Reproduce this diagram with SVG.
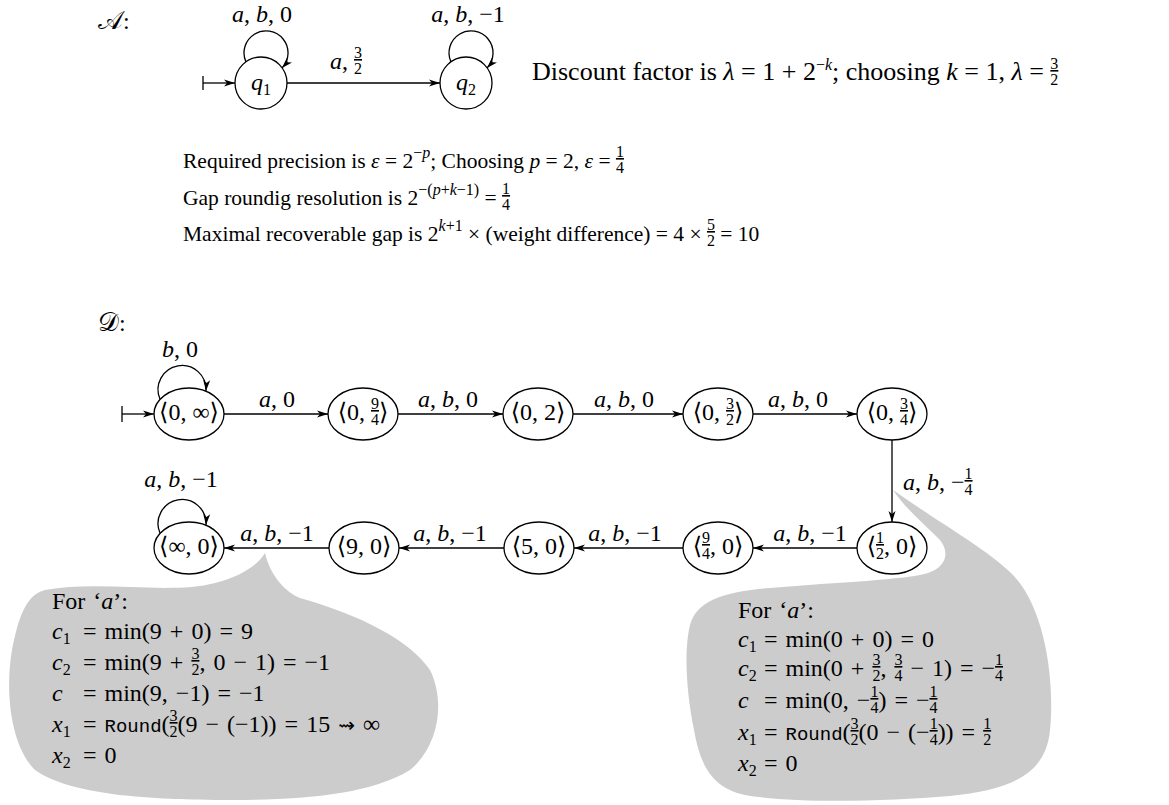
<svg xmlns="http://www.w3.org/2000/svg" width="1169" height="805" viewBox="0 0 1169 805">
<defs>
<marker id="ah" markerWidth="12" markerHeight="8" refX="11" refY="4" orient="auto" markerUnits="userSpaceOnUse">
<path d="M0,0.5 L11,4 L0,7.5 L3,4 z" fill="#000"/>
</marker>
<style>
text{font-family:"Liberation Serif","DejaVu Serif","DejaVu Sans",serif;font-size:24px;fill:#000}
.i{font-style:italic}
.f{font-size:16px}
.u{text-decoration:underline}
.s{font-size:16px}
.m{font-family:"Liberation Mono","DejaVu Sans Mono",monospace;font-size:19px}
.cal{font-family:"DejaVu Sans","DejaVu Serif","Noto Sans",serif;font-size:26px}
.node{fill:#fff;stroke:#000;stroke-width:1.3}
.e{fill:none;stroke:#000;stroke-width:1.3}
.a{marker-end:url(#ah)}
.blob{fill:#cccccc;stroke:none}
.p{font-size:21.5px}
.big{font-size:26px}
.mid{text-anchor:middle}
.cl{word-spacing:2px}
.sq{font-family:"DejaVu Sans",sans-serif;font-weight:normal;font-size:20px}
</style>
</defs>
<rect width="1169" height="805" fill="#fff"/>

<g id="callouts">
<path class="blob" d="M265,553 C270,575 285,592 300,598 C360,615 410,640 430,670 C445,700 440,745 410,770 C370,795 300,800 230,800 C150,800 70,795 35,770 C10,745 5,690 12,650 C18,620 25,595 45,590 C100,580 170,595 215,583 C240,577 258,565 265,553 Z"/>
<path class="blob" d="M893,490 C935,520 985,548 1010,572 C1045,605 1055,680 1050,730 C1046,775 1010,790 950,796 C880,802 790,803 745,795 C712,788 700,765 694,730 C686,690 684,650 690,625 C697,600 725,592 770,588 C840,582 905,580 928,573 C948,566 950,550 938,538 C922,522 905,508 893,490 Z"/>
</g>

<g id="titles">
<text x="98" y="29" class="cal">𝒜<tspan style="font-family:'Liberation Serif',serif;font-size:24px">:</tspan></text>
<text x="98" y="331" class="cal">𝒟<tspan style="font-family:'Liberation Serif',serif;font-size:24px">:</tspan></text>
<text x="532" y="80" class="big">Discount factor is <tspan class="i">λ</tspan> = 1 + 2<tspan class="s" dy="-10">−<tspan class="i">k</tspan></tspan><tspan dy="10">; choosing </tspan><tspan class="i">k</tspan> = 1, <tspan class="i">λ</tspan> = <tspan class="f u" dy="-11">3</tspan><tspan class="f" dx="-8" dy="16">2</tspan></text>
<text x="183" y="168" class="p">Required precision is <tspan class="i">ε</tspan> = 2<tspan class="s" dy="-10">−<tspan class="i">p</tspan></tspan><tspan dy="10">; Choosing </tspan><tspan class="i">p</tspan> = 2, <tspan class="i">ε</tspan> = <tspan class="f u" dy="-11">1</tspan><tspan class="f" dx="-8" dy="16">4</tspan></text>
<text x="183" y="205" class="p">Gap roundig resolution is 2<tspan class="s" dy="-10">−(<tspan class="i">p</tspan>+<tspan class="i">k</tspan>−1)</tspan><tspan dy="10"> = </tspan><tspan class="f u" dy="-11">1</tspan><tspan class="f" dx="-8" dy="16">4</tspan></text>
<text x="183" y="241" class="p">Maximal recoverable gap is 2<tspan class="s" dy="-10"><tspan class="i">k</tspan>+1</tspan><tspan dy="10"> × (weight difference) = 4 × </tspan><tspan class="f u" dy="-11">5</tspan><tspan class="f" dx="-8" dy="16">2</tspan><tspan dy="-5"> = 10</tspan></text>
</g>

<g id="connectors">
<line class="e" x1="203" y1="76" x2="203" y2="90"/>
<line class="e a" x1="203" y1="83" x2="235" y2="83"/>
<line class="e a" x1="287" y1="83" x2="440" y2="83"/>
<path class="e a" d="M246,62 A22,22 0 1 1 282,68"/>
<path class="e a" d="M451,62 A22,22 0 1 1 487,68"/>
<line class="e" x1="122" y1="406" x2="122" y2="422"/>
<line class="e a" x1="122" y1="414" x2="154" y2="414"/>
<path class="e a" d="M160,399 A24,24 0 1 1 206,391"/>
<line class="e a" x1="224" y1="414" x2="328" y2="414"/>
<line class="e a" x1="398" y1="414" x2="503" y2="414"/>
<line class="e a" x1="573" y1="414" x2="683" y2="414"/>
<line class="e a" x1="753" y1="414" x2="857" y2="414"/>
<line class="e a" x1="892" y1="440" x2="892" y2="522"/>
<line class="e a" x1="857" y1="548" x2="753" y2="548"/>
<line class="e a" x1="683" y1="548" x2="574" y2="548"/>
<line class="e a" x1="504" y1="548" x2="399" y2="548"/>
<line class="e a" x1="329" y1="548" x2="224" y2="548"/>
<path class="e a" d="M160,533 A24,24 0 1 1 206,525"/>

<text x="262" y="22" class="mid"><tspan class="i">a</tspan>, <tspan class="i">b</tspan>, 0</text>
<text x="468" y="22" class="mid"><tspan class="i">a</tspan>, <tspan class="i">b</tspan>, −1</text>
<text x="330" y="69"><tspan class="i">a</tspan>, <tspan class="f u" dy="-11">3</tspan><tspan class="f" dx="-8" dy="16">2</tspan></text>
<text x="180" y="357" class="mid"><tspan class="i">b</tspan>, 0</text>
<text x="277" y="407" class="mid"><tspan class="i">a</tspan>, 0</text>
<text x="448" y="407" class="mid"><tspan class="i">a</tspan>, <tspan class="i">b</tspan>, 0</text>
<text x="624" y="407" class="mid"><tspan class="i">a</tspan>, <tspan class="i">b</tspan>, 0</text>
<text x="798" y="407" class="mid"><tspan class="i">a</tspan>, <tspan class="i">b</tspan>, 0</text>
<text x="903" y="490"><tspan class="i">a</tspan>, <tspan class="i">b</tspan>, −<tspan class="f u" dy="-11">1</tspan><tspan class="f" dx="-8" dy="16">4</tspan></text>
<text x="181" y="487" class="mid"><tspan class="i">a</tspan>, <tspan class="i">b</tspan>, −1</text>
<text x="277" y="541" class="mid"><tspan class="i">a</tspan>, <tspan class="i">b</tspan>, −1</text>
<text x="450" y="541" class="mid"><tspan class="i">a</tspan>, <tspan class="i">b</tspan>, −1</text>
<text x="625" y="541" class="mid"><tspan class="i">a</tspan>, <tspan class="i">b</tspan>, −1</text>
<text x="810" y="541" class="mid"><tspan class="i">a</tspan>, <tspan class="i">b</tspan>, −1</text>
</g>

<g id="q1"><circle class="node" cx="261" cy="83" r="26"/><text x="261" y="90" class="mid"><tspan class="i">q</tspan><tspan class="s" dy="5">1</tspan></text></g>
<g id="q2"><circle class="node" cx="466" cy="83" r="26"/><text x="466" y="90" class="mid"><tspan class="i">q</tspan><tspan class="s" dy="5">2</tspan></text></g>

<g id="n0inf"><ellipse class="node" cx="189" cy="414" rx="35" ry="26"/><text x="189" y="420" class="mid">⟨0, ∞⟩</text></g>
<g id="n094"><ellipse class="node" cx="363" cy="414" rx="35" ry="26"/><text x="363" y="420" class="mid">⟨0, <tspan class="f u" dy="-11">9</tspan><tspan class="f" dx="-8" dy="16">4</tspan><tspan dy="-5">⟩</tspan></text></g>
<g id="n02"><ellipse class="node" cx="538" cy="414" rx="35" ry="26"/><text x="538" y="420" class="mid">⟨0, 2⟩</text></g>
<g id="n032"><ellipse class="node" cx="718" cy="414" rx="35" ry="26"/><text x="718" y="420" class="mid">⟨0, <tspan class="f u" dy="-11">3</tspan><tspan class="f" dx="-8" dy="16">2</tspan><tspan dy="-5">⟩</tspan></text></g>
<g id="n034"><ellipse class="node" cx="892" cy="414" rx="35" ry="26"/><text x="892" y="420" class="mid">⟨0, <tspan class="f u" dy="-11">3</tspan><tspan class="f" dx="-8" dy="16">4</tspan><tspan dy="-5">⟩</tspan></text></g>
<g id="ninf0"><ellipse class="node" cx="189" cy="548" rx="35" ry="26"/><text x="189" y="554" class="mid">⟨∞, 0⟩</text></g>
<g id="n90"><ellipse class="node" cx="364" cy="548" rx="35" ry="26"/><text x="364" y="554" class="mid">⟨9, 0⟩</text></g>
<g id="n50"><ellipse class="node" cx="539" cy="548" rx="35" ry="26"/><text x="539" y="554" class="mid">⟨5, 0⟩</text></g>
<g id="n940"><ellipse class="node" cx="718" cy="548" rx="35" ry="26"/><text x="718" y="554" class="mid">⟨<tspan class="f u" dy="-11">9</tspan><tspan class="f" dx="-8" dy="16">4</tspan><tspan dy="-5">, 0⟩</tspan></text></g>
<g id="n120"><ellipse class="node" cx="892" cy="548" rx="35" ry="26"/><text x="892" y="554" class="mid">⟨<tspan class="f u" dy="-11">1</tspan><tspan class="f" dx="-8" dy="16">2</tspan><tspan dy="-5">, 0⟩</tspan></text></g>

<g id="callout-left-text" class="cl">
<text x="52" y="609">For ‘<tspan class="i">a</tspan>’:</text>
<text x="52" y="639"><tspan class="i">c</tspan><tspan class="s" dy="5">1</tspan></text>
<text x="83" y="639">= min(9 + 0) = 9</text>
<text x="52" y="670"><tspan class="i">c</tspan><tspan class="s" dy="5">2</tspan></text>
<text x="83" y="670">= min(9 + <tspan class="f u" dy="-11">3</tspan><tspan class="f" dx="-8" dy="16">2</tspan><tspan dy="-5">, 0 − 1) = −1</tspan></text>
<text x="52" y="701"><tspan class="i">c</tspan></text>
<text x="83" y="701">= min(9, −1) = −1</text>
<text x="52" y="732"><tspan class="i">x</tspan><tspan class="s" dy="5">1</tspan></text>
<text x="83" y="732">= <tspan class="m">Round</tspan>(<tspan class="f u" dy="-11">3</tspan><tspan class="f" dx="-8" dy="16">2</tspan><tspan dy="-5">(9 − (−1)) = 15 </tspan><tspan class="sq">⇝</tspan> ∞</text>
<text x="52" y="763"><tspan class="i">x</tspan><tspan class="s" dy="5">2</tspan></text>
<text x="83" y="763">= 0</text>
</g>

<g id="callout-right-text" class="cl">
<text x="738" y="618">For ‘<tspan class="i">a</tspan>’:</text>
<text x="738" y="647"><tspan class="i">c</tspan><tspan class="s" dy="5">1</tspan></text>
<text x="764" y="647">= min(0 + 0) = 0</text>
<text x="738" y="676"><tspan class="i">c</tspan><tspan class="s" dy="5">2</tspan></text>
<text x="764" y="676">= min(0 + <tspan class="f u" dy="-11">3</tspan><tspan class="f" dx="-8" dy="16">2</tspan><tspan dy="-5">, </tspan><tspan class="f u" dy="-11">3</tspan><tspan class="f" dx="-8" dy="16">4</tspan><tspan dy="-5"> − 1) = −</tspan><tspan class="f u" dy="-11">1</tspan><tspan class="f" dx="-8" dy="16">4</tspan></text>
<text x="738" y="708"><tspan class="i">c</tspan></text>
<text x="764" y="708">= min(0, −<tspan class="f u" dy="-11">1</tspan><tspan class="f" dx="-8" dy="16">4</tspan><tspan dy="-5">) = −</tspan><tspan class="f u" dy="-11">1</tspan><tspan class="f" dx="-8" dy="16">4</tspan></text>
<text x="738" y="740"><tspan class="i">x</tspan><tspan class="s" dy="5">1</tspan></text>
<text x="764" y="740">= <tspan class="m">Round</tspan>(<tspan class="f u" dy="-11">3</tspan><tspan class="f" dx="-8" dy="16">2</tspan><tspan dy="-5">(0 − (−</tspan><tspan class="f u" dy="-11">1</tspan><tspan class="f" dx="-8" dy="16">4</tspan><tspan dy="-5">)) = </tspan><tspan class="f u" dy="-11">1</tspan><tspan class="f" dx="-8" dy="16">2</tspan></text>
<text x="738" y="771"><tspan class="i">x</tspan><tspan class="s" dy="5">2</tspan></text>
<text x="764" y="771">= 0</text>
</g>
</svg>
